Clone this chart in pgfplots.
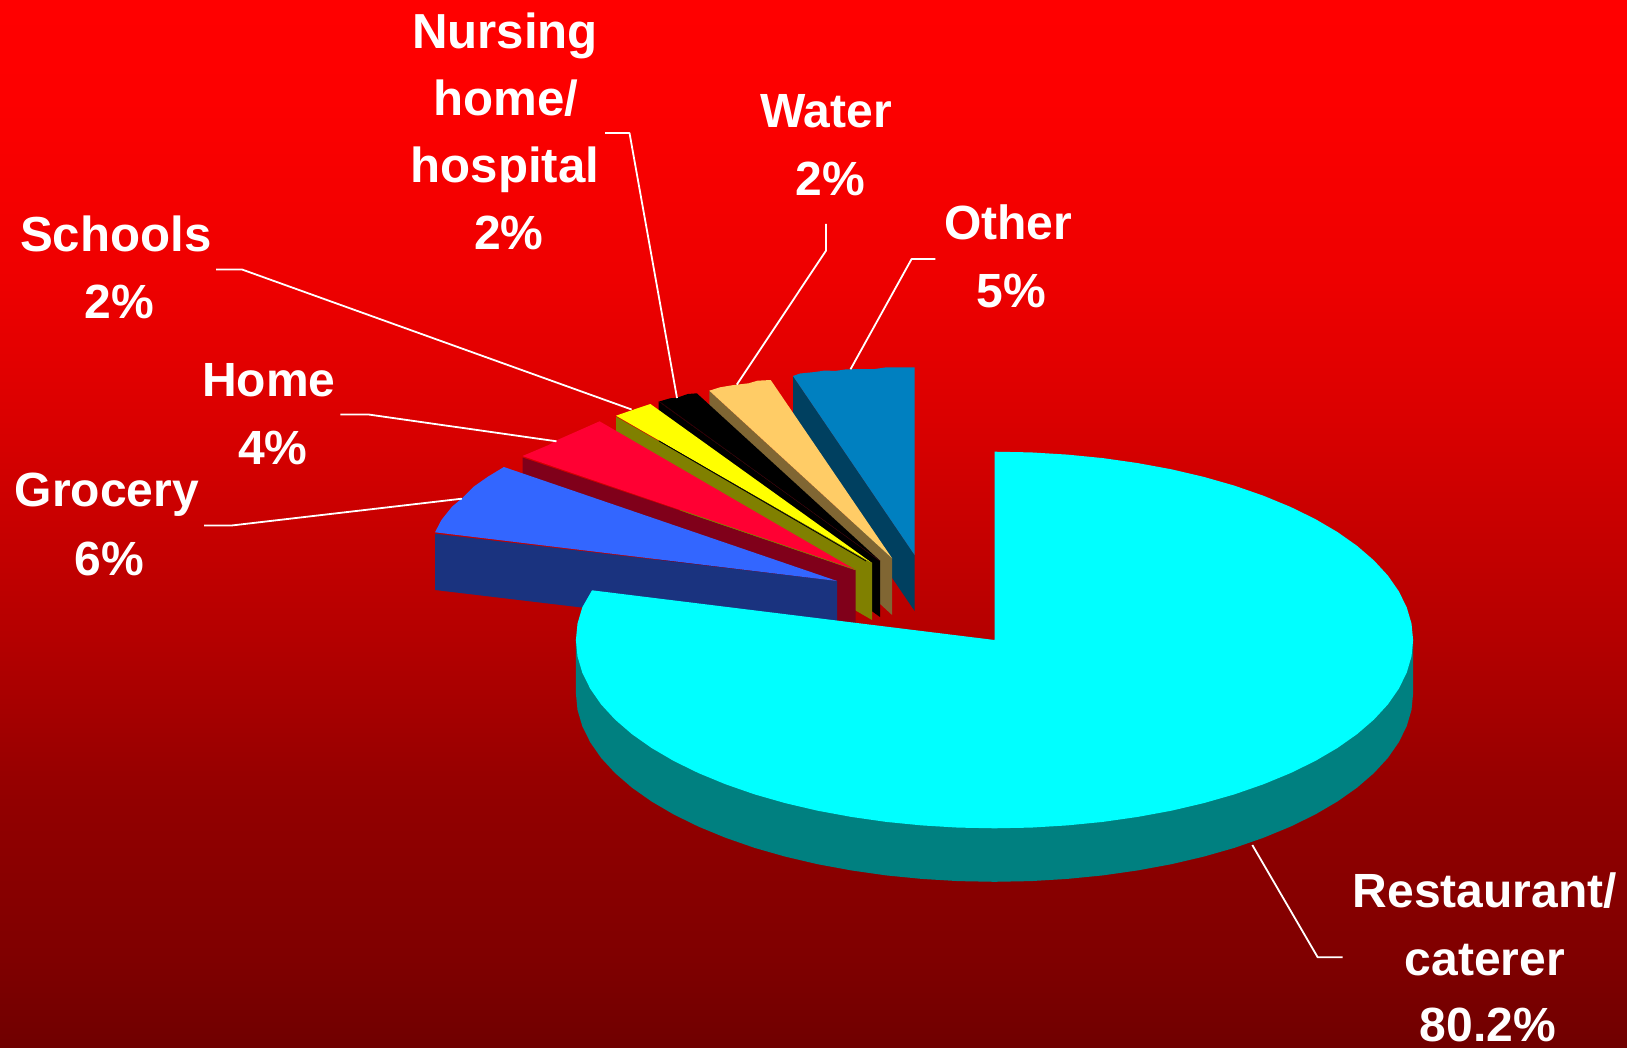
\documentclass[border=0pt]{standalone}
\usepackage{fontspec}
\setmainfont{Liberation Sans}
\usepackage{pgfplots}
\pgfplotsset{compat=1.18}
\pgfdeclareverticalshading{bgshade}{100bp}{rgb(0bp)=(.439,0,0); rgb(25bp)=(.439,0,0); rgb(29.2bp)=(.498,0,0); rgb(36.8bp)=(.573,0,0); rgb(44.5bp)=(.706,0,0); rgb(55bp)=(.855,0,0); rgb(61.6bp)=(.933,0,0); rgb(70.2bp)=(.992,0,0); rgb(75bp)=(1,0,0); rgb(100bp)=(1,0,0)}
\definecolor{cCyan}{RGB}{0,255,255}
\definecolor{cTeal}{RGB}{0,128,128}
\definecolor{cBlue}{RGB}{51,102,255}
\definecolor{cNavy}{RGB}{26,51,127}
\definecolor{cRed}{RGB}{255,0,51}
\definecolor{cDRed}{RGB}{128,0,26}
\definecolor{cYellow}{RGB}{255,255,0}
\definecolor{cOlive}{RGB}{128,128,0}
\definecolor{cOrange}{RGB}{255,204,102}
\definecolor{cBrown}{RGB}{128,102,51}
\definecolor{cOther}{RGB}{0,128,192}
\definecolor{cDOther}{RGB}{0,64,96}
\newcommand{\lab}[4][48]{\node[anchor=base,text=white,inner sep=0pt,font=\fontsize{#1}{#1}\selectfont\bfseries] at (axis cs:#2,#3) {#4};}
\begin{document}
\begin{tikzpicture}
\useasboundingbox (0,0) rectangle (1627pt,1048pt);
\clip (0,0) rectangle (1627pt,1048pt);
\shade[shading=bgshade] (0,0) rectangle (1627pt,1048pt);
\begin{axis}[
  anchor=south west, at={(0,0)},
  x=1pt, y=1pt, y dir=reverse,
  xmin=0, xmax=1627, ymin=0, ymax=1048,
  hide axis, clip=false, no markers,
  every axis plot/.append style={line join=round}
]
% Other
\addplot[fill=cDOther,draw=none] coordinates {(793,376)(793,432)(914.6,611)(914.6,555)} -- cycle;
\addplot[fill=cOther,draw=none] coordinates {(793,376)(800,373.5)(815,372)(825,370.5)(835,371)(845,369.5)(860,369)(875,369)(885,367.5)(914.6,367.3)(914.6,555)} -- cycle;
% Water
\addplot[fill=cBrown,draw=none] coordinates {(709.3,390.7)(709.3,447)(892.1,615)(892.1,558.3)} -- cycle;
\addplot[fill=cOrange,draw=none] coordinates {(709.3,390.7)(720,387.3)(734,385)(748.6,383.3)(757.5,380.7)(770.7,380)(892.1,558.3)} -- cycle;
% Nursing home
\addplot[fill=black,draw=none] coordinates {(658.6,401.7)(658.6,458)(880,617)(880,560.7)} -- cycle;
\addplot[fill=black,draw=none] coordinates {(658.6,401.7)(670,398.3)(677,397.7)(687.9,394)(696.8,393.3)(880,560.7)} -- cycle;
\addplot[color=cDRed!50!black,line width=0.4pt] coordinates {(660,402)(880,561)};
% Schools
\addplot[fill=cOlive,draw=none] coordinates {(616,416.7)(616,472)(872,620)(872,563)} -- cycle;
\addplot[fill=cYellow,draw=none] coordinates {(616,415.7)(632.5,410)(650.4,404)(872,563)} -- cycle;
\addplot[color=black,line width=0.8pt] coordinates {(659,441)(866,561)};
% Home
\addplot[fill=cDRed,draw=none] coordinates {(522.5,457.5)(522.5,513.5)(855.7,626.7)(855.7,570)} -- cycle;
\addplot[fill=cRed,draw=none] coordinates {(522.5,456)(548.6,445)(555.7,440.7)(599.6,421.3)(855.7,570)} -- cycle;
\addplot[color=cOlive,line width=0.6pt] coordinates {(680,510)(855.7,570)};
% Grocery
\addplot[fill=cNavy,draw=none] coordinates {(435,533.7)(435,590)(837.1,638)(837.1,581)} -- cycle;
\addplot[fill=cBlue,draw=none] coordinates {(435,532.3)(441.4,520)(452,506.7)(462,498.3)(473.6,486.7)(487.9,476.7)(503.9,467)(837.1,581)} -- cycle;
% Restaurant / caterer
\addplot[fill=cTeal,draw=none] coordinates {(1413.1,640)(1413.1,693.5)(1411.5,709.9)(1406.7,726.2)(1398.8,742.2)(1387.9,757.9)(1373.9,773.1)(1357,787.7)(1337.4,801.5)(1315.2,814.5)(1290.5,826.6)(1263.6,837.7)(1234.6,847.8)(1203.8,856.6)(1171.4,864.2)(1137.7,870.4)(1102.8,875.4)(1067.2,878.9)(1031,881.1)(994.5,881.8)(958,881.1)(921.8,878.9)(886.2,875.4)(851.3,870.4)(817.6,864.2)(785.2,856.6)(754.4,847.8)(725.4,837.7)(698.5,826.6)(673.8,814.5)(651.6,801.5)(632,787.7)(615.1,773.1)(601.1,757.9)(590.2,742.2)(582.3,726.2)(577.5,709.9)(575.9,693.5)(575.9,640)} -- cycle;
\addplot[fill=cCyan,draw=none] coordinates {(994.5,640)(994.5,451.7)(1031,452.4)(1067.2,454.6)(1102.8,458.1)(1137.7,463.1)(1171.4,469.3)(1203.8,476.9)(1234.6,485.7)(1263.6,495.8)(1290.5,506.9)(1315.2,519)(1337.4,532)(1357,545.8)(1373.9,560.4)(1387.9,575.6)(1398.8,591.3)(1406.7,607.3)(1411.5,623.6)(1413.1,640)(1411.5,656.4)(1406.7,672.7)(1398.8,688.7)(1387.9,704.4)(1373.9,719.6)(1357,734.2)(1337.4,748)(1315.2,761)(1290.5,773.1)(1263.6,784.2)(1234.6,794.3)(1203.8,803.1)(1171.4,810.7)(1137.7,816.9)(1102.8,821.9)(1067.2,825.4)(1031,827.6)(994.5,828.3)(958,827.6)(921.8,825.4)(886.2,821.9)(851.3,816.9)(817.6,810.7)(785.2,803.1)(754.4,794.3)(725.4,784.2)(698.5,773.1)(673.8,761)(651.6,748)(632,734.2)(615.1,719.6)(601.1,704.4)(590.2,688.7)(582.3,672.7)(577.5,656.4)(575.9,640)(577.5,623.6)(582.3,607.3)(592,590.3)} -- cycle;
% leader lines
\addplot[white,line width=1.8pt] coordinates {(216,269.5)(242,269.5)(631.6,409.5)};
\addplot[white,line width=1.8pt] coordinates {(605,133)(629.5,133)(677,398)};
\addplot[white,line width=1.8pt] coordinates {(826,224)(826,250.7)(736.8,384.6)};
\addplot[white,line width=1.8pt] coordinates {(935.4,259)(911.6,259)(850.5,369.3)};
\addplot[white,line width=1.8pt] coordinates {(340.4,414.5)(368.4,414.5)(556.5,441.3)};
\addplot[white,line width=1.8pt] coordinates {(204,525.5)(231.6,525.5)(461.8,498.7)};
\addplot[white,line width=1.8pt] coordinates {(1252.3,845)(1317.7,957.3)(1342.7,957.3)};
% labels
\lab[49.2]{505}{49}{Nursing}
\lab[49.2]{506}{115.6}{home/}
\lab[49.2]{505}{182.5}{hospital}
\lab{508.8}{250}{2\%}
\lab{826}{128}{Water}
\lab{830}{196}{2\%}
\lab{1008}{240}{Other}
\lab{1011}{308}{5\%}
\lab[49.2]{115.8}{252}{Schools}
\lab{119.6}{319}{2\%}
\lab{269}{396}{Home}
\lab{272.7}{464}{4\%}
\lab{107}{506}{Grocery}
\lab{109.6}{575}{6\%}
\lab{1484.7}{907}{Restaurant/}
\lab{1484.7}{975}{caterer}
\lab{1487.8}{1041.7}{80.2\%}
\end{axis}
\end{tikzpicture}
\end{document}
